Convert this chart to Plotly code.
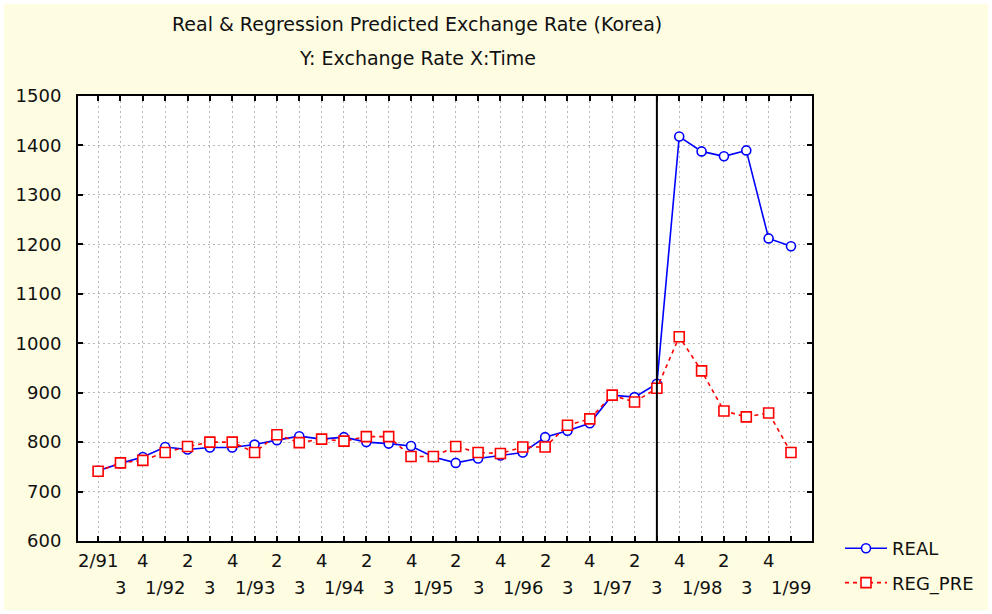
import plotly.graph_objects as go

# quarterly observations, Q2 1991 .. Q1 1999
quarters = ["2/91", "3/91", "4/91", "1/92", "2/92", "3/92", "4/92", "1/93",
            "2/93", "3/93", "4/93", "1/94", "2/94", "3/94", "4/94", "1/95",
            "2/95", "3/95", "4/95", "1/96", "2/96", "3/96", "4/96", "1/97",
            "2/97", "3/97", "4/97", "1/98", "2/98", "3/98", "4/98", "1/99"]
tick_labels = ["2/91", "3", "4", "1/92", "2", "3", "4", "1/93",
               "2", "3", "4", "1/94", "2", "3", "4", "1/95",
               "2", "3", "4", "1/96", "2", "3", "4", "1/97",
               "2", "3", "4", "1/98", "2", "3", "4", "1/99"]
real = [742, 757, 770, 790, 785, 789, 789, 795, 804, 812, 806, 810, 800, 797, 792, 770,
        758, 767, 773, 779, 810, 823, 838, 895, 891, 918, 1418, 1388, 1378, 1390, 1212, 1196]
reg_pre = [741, 758, 763, 779, 791, 800, 800, 779, 815, 799, 806, 802, 811, 811, 771, 771,
           791, 779, 777, 790, 790, 834, 847, 895, 881, 909, 1013, 944, 863, 851, 859, 779]
crisis_quarter = "3/97"

FONT = "DejaVu Sans"
W, H = 992, 614
L, R, T, B = 78, 180, 96, 73
pw, ph = W - L - R, H - T - B


def px(x):
    return (x - L) / pw


def py(y):
    return (H - B - y) / ph


idx = list(range(len(quarters)))

fig = go.Figure()
fig.add_trace(go.Scatter(
    x=idx, y=real, name="REAL", mode="lines+markers", legendgroup="a",
    line=dict(color="#0000ff", width=1.6),
    marker=dict(symbol="circle", size=9, color="white",
                line=dict(color="#0000ff", width=1.6)),
))
fig.add_trace(go.Scatter(
    x=idx, y=reg_pre, name="REG_PRE", mode="lines+markers", legendgroup="b",
    line=dict(color="#ff0000", width=1.6, dash="4px,4px"),
    marker=dict(symbol="square", size=10, color="white",
                line=dict(color="#ff0000", width=1.6)),
))

ann = [
    dict(text="Real & Regression Predicted Exchange Rate (Korea)", x=px(417), y=py(24)),
    dict(text="Y: Exchange Rate X:Time", x=px(417), y=py(58)),
]
for a in ann:
    a.update(xref="paper", yref="paper", showarrow=False, xanchor="center", yanchor="middle",
             font=dict(family=FONT, size=19, color="#111111"))

for i, lab in enumerate(tick_labels):
    ann.append(dict(text=lab, x=i, xref="x", y=0, yref="paper", showarrow=False,
                    xanchor="center", yanchor="middle",
                    yshift=-19 if i % 2 == 0 else -46,
                    font=dict(family=FONT, size=18, color="#111111")))

xc = quarters.index(crisis_quarter)
shapes = [
    dict(type="line", xref="x", yref="paper", x0=xc, x1=xc, y0=0, y1=1,
         line=dict(color="black", width=2)),
    dict(type="rect", xref="paper", yref="paper", x0=px(0), x1=px(W), y0=py(H), y1=py(0),
         line=dict(color="white", width=8), layer="above"),
]

fig.update_layout(
    width=W, height=H,
    margin=dict(l=L, r=R, t=T, b=B),
    paper_bgcolor="#fffde1",
    plot_bgcolor="white",
    font=dict(family=FONT, size=18, color="#111111"),
    showlegend=True,
    legend=dict(x=px(840), y=py(530), xanchor="left", yanchor="top",
                bgcolor="rgba(0,0,0,0)", tracegroupgap=8, itemwidth=42,
                font=dict(family=FONT, size=18, color="#111111")),
    annotations=ann,
    shapes=shapes,
)
fig.update_xaxes(
    range=[-0.9, 31.94], tickmode="linear", tick0=0, dtick=1,
    showticklabels=False, ticks="inside", ticklen=5, tickwidth=2, tickcolor="black",
    showline=True, linecolor="black", linewidth=2, mirror="ticks",
    showgrid=True, gridcolor="#b8b8b8", griddash="2px,3px", gridwidth=1, zeroline=False,
)
fig.update_yaxes(
    range=[600, 1500], tickmode="linear", tick0=600, dtick=100,
    ticks="inside", ticklen=5, tickwidth=2, tickcolor="black", ticklabelstandoff=11,
    showline=True, linecolor="black", linewidth=2, mirror="ticks",
    showgrid=True, gridcolor="#b8b8b8", griddash="2px,3px", gridwidth=1, zeroline=False,
    tickfont=dict(family=FONT, size=18, color="#111111"),
)

# drop the browser's default page margin so the figure sits at the window's corner
fig.write_html("out.html", config={"displayModeBar": False},
               post_script="document.body.style.margin='0';")
